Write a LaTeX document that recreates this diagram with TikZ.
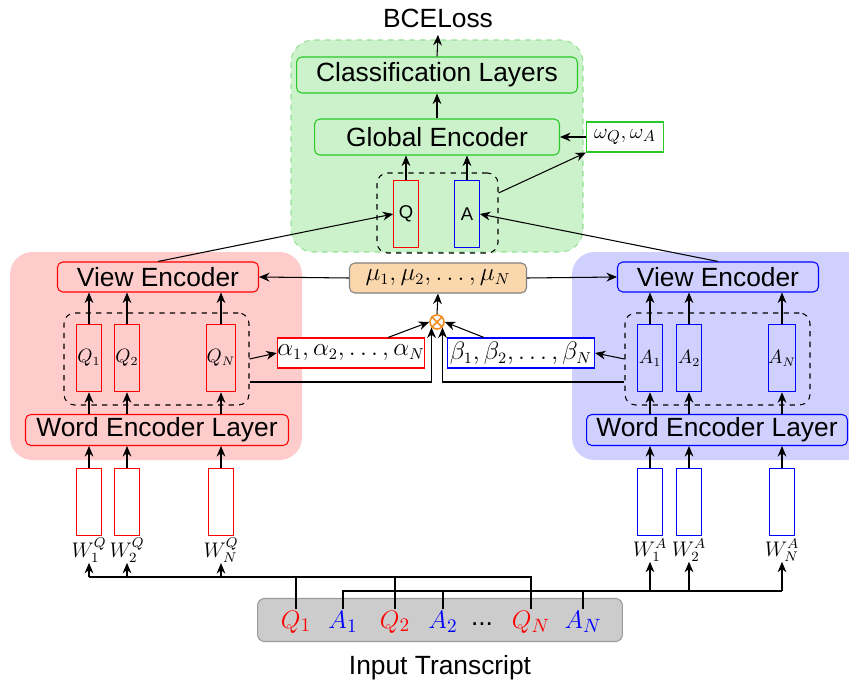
\documentclass[tikz,border=0pt]{standalone}
\usepackage[no-math]{fontspec}
\setmainfont{Liberation Sans}
\usepackage{amsmath,amssymb}
\usepackage{xcolor}
\usepackage{tikz}
\usetikzlibrary{arrows.meta,positioning}

\definecolor{pinkbg}{RGB}{255,204,204}
\definecolor{bluebg}{RGB}{208,208,255}
\definecolor{greenbg}{RGB}{204,242,204}
\definecolor{greenedge}{RGB}{150,225,150}
\definecolor{greenline}{RGB}{40,200,40}
\definecolor{mufill}{RGB}{250,215,172}
\definecolor{multcol}{RGB}{240,140,30}
\definecolor{transfill}{RGB}{204,204,204}

\begin{document}
\begin{tikzpicture}[x=0.02cm, y=-0.02cm, >={Stealth[length=6pt,width=5pt]}, line width=0.6pt,
	every node/.style={font=\fontsize{15}{18}\selectfont, inner sep=0pt},
	layer/.style={draw, rounded corners=3pt, minimum height=0.6cm},
	weights/.style={draw, fill=white, minimum width=2.94cm, minimum height=0.6cm, font=\fontsize{13.5}{16}\selectfont},
	cell/.style={draw, minimum width=0.49cm, minimum height=1.35cm, font=\fontsize{10.5}{12}\selectfont},
	group/.style={draw, dashed, rounded corners=6pt},
	back/.style={rounded corners=0.45cm}]
	\useasboundingbox (0,0) rectangle (849,686);

	% backgrounds
	\fill[back, pinkbg] (10,252) rectangle (302,460);
	\fill[back, bluebg] (572,252) rectangle (868,460);
	\draw[back, dashed, draw=greenedge, fill=greenbg] (291,40) rectangle (583,252);

	% global part
	\node[inner sep=4pt] (Loss) at (438,18) {BCELoss};
	\node[layer, draw=greenline, minimum width=5.62cm, minimum height=0.72cm] (Classif) at (437,75) {Classification Layers};
	\node[layer, draw=greenline, minimum width=4.9cm, minimum height=0.72cm] (Global) at (437,137) {Global Encoder};
	\node[weights, draw=greenline, minimum width=1.54cm, font=\fontsize{13}{16}\selectfont] (Omega) at (625,137) {$\omega_Q,\omega_A$};
	\node[group, minimum width=2.42cm, minimum height=1.6cm] (Pair) at (437.5,213) {};
	\node[cell, draw=red] (Qv) at (406,214) {Q};
	\node[cell, draw=blue] (Av) at (467,214) {A};

	% attention weights
	\node[layer, draw=gray, fill=mufill, minimum width=3.54cm, font=\fontsize{13.5}{16}\selectfont] (Mu) at (438,278) {$\mu_1,\mu_2,\dots,\mu_N$};
	\node[circle, draw=multcol, line width=0.9pt, minimum size=0.28cm] (Mult) at (437,322) {};
	\draw[multcol, line width=0.9pt] (Mult.north west) -- (Mult.south east) (Mult.north east) -- (Mult.south west);
	\node[weights, draw=red] (Alpha) at (351,353) {$\alpha_1,\alpha_2,\dots,\alpha_N$};
	\node[weights, draw=blue] (Beta) at (521,353) {$\beta_1,\beta_2,\dots,\beta_N$};

	% question view
	\node[layer, draw=red, minimum width=4.02cm] (ViewQ) at (158,277) {View Encoder};
	\node[group, minimum width=3.7cm, minimum height=1.84cm] (GroupQ) at (156.5,359) {};
	\node[layer, draw=red, minimum width=5.26cm, minimum height=0.62cm] (WordQ) at (157,430) {Word Encoder Layer};
	\foreach \n/\x in {1/89, 2/127, N/221} {
		\node[cell, draw=red] (Q\n) at (\x,358) {$Q_\n$};
		\node[cell, draw=red, fill=white] (EQ\n) at (\x,502) {};
		\node[font=\fontsize{11.5}{14}\selectfont] (WQ\n) at (\x,550) {$W_\n^Q$};
		\draw[->] (EQ\n.north) -- (EQ\n.north |- WordQ.south);
		\draw[->] (Q\n.south |- WordQ.north) -- (Q\n.south);
		\draw[->] (Q\n.north) -- (Q\n.north |- ViewQ.south);
	}

	% answer view
	\node[layer, draw=blue, minimum width=4.02cm] (ViewA) at (718,277) {View Encoder};
	\node[group, minimum width=3.7cm, minimum height=1.84cm] (GroupA) at (717.5,359) {};
	\node[layer, draw=blue, minimum width=5.22cm, minimum height=0.62cm] (WordA) at (717,430) {Word Encoder Layer};
	\foreach \n/\x in {1/650, 2/689, N/782} {
		\node[cell, draw=blue] (A\n) at (\x,358) {$A_\n$};
		\node[cell, draw=blue, fill=white] (EA\n) at (\x,502) {};
		\node[font=\fontsize{11.5}{14}\selectfont] (WA\n) at (\x,550) {$W_\n^A$};
		\draw[->] (EA\n.north) -- (EA\n.north |- WordA.south);
		\draw[->] (A\n.south |- WordA.north) -- (A\n.south);
		\draw[->] (A\n.north) -- (A\n.north |- ViewA.south);
	}

	% transcript
	\node[fill=transfill, draw=gray!80, rounded corners=4pt, minimum width=7.3cm, minimum height=0.86cm] (Trans) at (440,620) {};
	\foreach \n/\t/\c/\x in {Q1/Q_1/red/296, A1/A_1/blue/343, Q2/Q_2/red/395, A2/A_2/blue/443, QN/Q_N/red/531, AN/A_N/blue/583}
		\node[text=\c, inner sep=1pt] (T\n) at (\x,622) {$\t$};
	\node (Dots) at (482,624) {...};
	\node (Input) at (440,668) {Input Transcript};

	% connections
	\draw[->] (Classif.north) -- (Loss.south);
	\draw[->] (Global.north) -- (Classif.south);
	\draw[->] (Qv.north) -- (Qv.north |- Global.south);
	\draw[->] (Av.north) -- (Av.north |- Global.south);
	\draw[->] (Omega.west) -- (Global.east);
	\draw[->] ([yshift=0.4cm]Pair.east) -- (Omega.south west);
	\draw[->] (ViewQ.north) -- (Qv.west);
	\draw[->] (ViewA.north) -- (Av.east);
	\draw[->] (Mu.west) -- (ViewQ.east);
	\draw[->] (Mu.east) -- (ViewA.west);
	\draw[->] (Mult.north) -- (Mu.south);
	\draw[->] (GroupQ.east) -- (Alpha.west);
	\draw[->] (GroupA.west) -- (Beta.east);
	\draw[->] ([xshift=0.74cm]Alpha.north) -- (Mult.west);
	\draw[->] ([xshift=-0.74cm]Beta.north) -- (Mult.east);
	\draw[->] ([yshift=-0.46cm]GroupQ.east) -| (Mult.south west);
	\draw[->] ([yshift=-0.46cm]GroupA.west) -| (Mult.south east);

	\coordinate (BusQ) at (89,577);
	\coordinate (BusA) at (782,591);
	\draw (TQN.north) |- (BusQ);
	\draw (TQ1.north) -- (TQ1.north |- BusQ);
	\draw (TQ2.north) -- (TQ2.north |- BusQ);
	\draw (TA1.north) |- (BusA);
	\draw (TA2.north) -- (TA2.north |- BusA);
	\draw (TAN.north) -- (TAN.north |- BusA);
	\foreach \n in {1,2,N} {
		\draw[->] (WQ\n.south |- BusQ) -- (WQ\n.south);
		\draw[->] (WA\n.south |- BusA) -- (WA\n.south);
	}
\end{tikzpicture}
\end{document}
